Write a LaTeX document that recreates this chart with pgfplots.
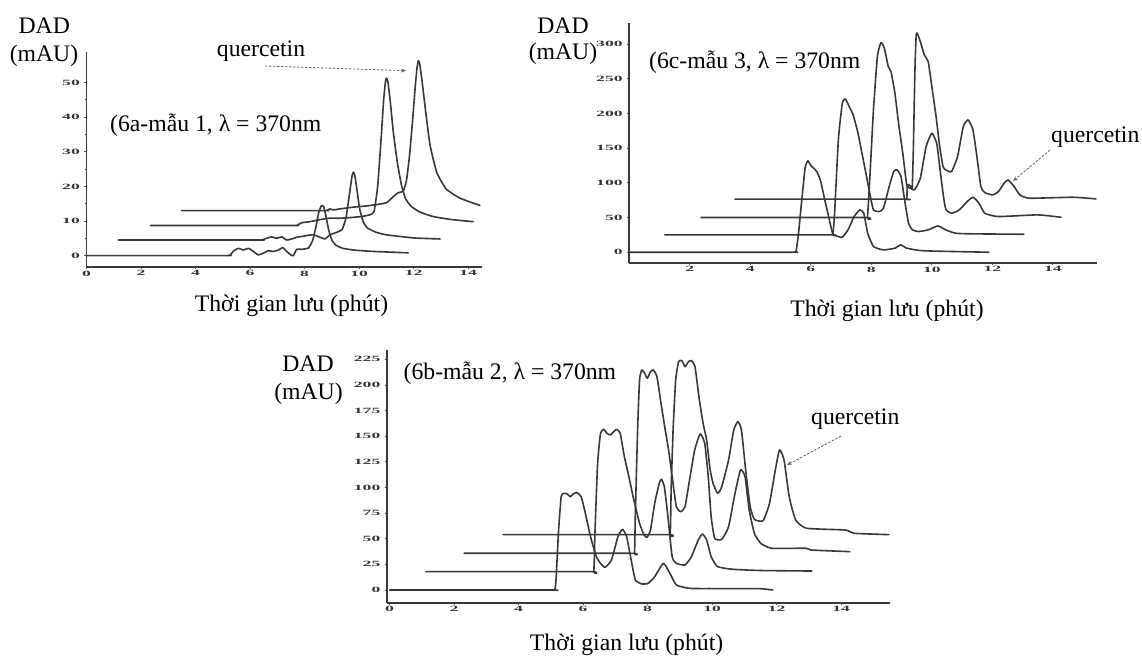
\documentclass[border=0pt]{standalone}
\usepackage{fontspec}
\setmainfont{Liberation Serif}
\newfontfamily\tickfont{Liberation Serif}[FakeStretch=2.2]
\usepackage{pgfplots}
\pgfplotsset{compat=1.18}
\usetikzlibrary{arrows.meta}

\pgfplotsset{
  chrom/.style={
    scale only axis,
    axis lines=left,
    axis line style={-, draw=black!78, line width=1.8pt},
    tick style={draw=black!65, line width=0.8pt},
    tick align=outside,
    major tick length=2.5pt,
    minor tick length=1.5pt,
    minor x tick num=3,
    minor y tick num=1,
    /pgf/number format/assume math mode=true,
    ticklabel style={font=\tickfont\bfseries\fontsize{8}{8}\selectfont, text=black!80, inner sep=0pt},
    yticklabel style={xshift=-4pt},
    xticklabel style={yshift=-1pt},
  },
  tr/.style={draw=black!78, line width=1.6pt, line join=round, line cap=round, mark=none, smooth, tension=0.3},
}
\newcommand{\lab}{\fontsize{23.7}{26}\selectfont}
\tikzset{qarrow/.style={dashed, dash pattern=on 2.5pt off 1.5pt, draw=black!60, line width=0.8pt, -{Stealth[length=5pt,width=4pt]}}}

\begin{document}
\begin{tikzpicture}
\useasboundingbox (0pt,0pt) rectangle (1142pt,658pt);

% ---------- 6a : mau 1 ----------
\begin{axis}[chrom, at={(86.5pt,391pt)}, anchor=south west,
  width=395.3pt, height=215.2pt,
  xmin=0, xmax=14.5, ymin=-3.3, ymax=58.9,
  xtick={0,2,...,14}, ytick={0,10,...,50}]
\addplot[tr] coordinates {(0,0) (5.1,0) (5.2,0.1) (5.26,0) (5.38,1.2) (5.57,2.1) (5.75,1.6) (5.94,2.1) (6.12,1.2) (6.3,0.2) (6.49,0.7) (6.67,1.4) (6.85,1.2) (7.04,1.6) (7.2,2.3) (7.34,1.2) (7.49,0.2) (7.59,0) (7.71,1.8) (7.89,1.8) (8.14,2.2) (8.3,4.5) (8.42,8.5) (8.52,12.5) (8.6,14.2) (8.65,14.5) (8.7,14.1) (8.78,11.5) (8.88,7.5) (9.0,4.5) (9.15,3.0) (9.4,2.1) (9.8,1.6) (10.5,1.2) (11.8,0.8)};
\addplot[tr] coordinates {(1.17,4.5) (6.3,4.5) (6.43,4.5) (6.61,5.0) (6.79,5.4) (6.97,5.0) (7.16,5.4) (7.34,4.5) (7.53,4.8) (7.71,5.3) (7.89,5.5) (8.08,5.8) (8.32,6.0) (8.57,5.3) (8.75,4.8) (8.93,6.0) (9.2,6.8) (9.38,7.6) (9.52,11) (9.65,18) (9.74,23) (9.79,24.1) (9.84,23.2) (9.92,19) (10.02,13.5) (10.15,9.8) (10.3,8.0) (10.6,6.8) (11.0,6.0) (12.0,5.1) (12.97,4.8)};
\addplot[tr] coordinates {(2.35,8.7) (7.55,8.7) (7.7,8.7) (7.9,9.5) (8.2,9.8) (8.5,10.3) (8.9,10.8) (9.3,10.8) (9.7,11.0) (10.1,11.3) (10.4,11.8) (10.55,12.8) (10.68,20) (10.8,33) (10.9,45) (10.97,50.5) (11.01,51.3) (11.06,50) (11.15,44) (11.25,36) (11.4,27) (11.55,20.5) (11.7,16.5) (11.9,14.3) (12.2,12.7) (12.7,11.3) (13.4,10.4) (14.19,9.8)};
\addplot[tr] coordinates {(3.49,13.0) (8.65,13.0) (8.8,13.0) (8.93,13.5) (9.05,13.2) (9.3,13.5) (9.79,14.0) (10.28,14.35) (10.77,14.9) (11.01,15.3) (11.25,17.0) (11.44,18.2) (11.62,18.6) (11.74,21.9) (11.85,29) (11.95,38) (12.05,48) (12.12,54) (12.17,56.3) (12.22,55.5) (12.3,51) (12.42,43) (12.6,32) (12.85,24) (13.2,19.2) (13.7,16.6) (14.43,14.5)};
\end{axis}

% ---------- 6c : mau 3 ----------
\begin{axis}[chrom, at={(629.3pt,395pt)}, anchor=south west,
  width=467.4pt, height=240.4pt,
  xmin=0, xmax=15.45, ymin=-15.5, ymax=330.8,
  xtick={2,4,...,14}, ytick={0,50,...,300}]
\addplot[tr] coordinates {(0,0) (5.35,0) (5.45,0) (5.52,3) (5.6,30) (5.68,65.8) (5.81,121) (5.9,131.6) (6.0,125) (6.2,116) (6.33,101.8) (6.46,75.4) (6.59,51.4) (6.72,27.4) (6.91,22.6) (7.04,21.6) (7.23,32.2) (7.43,51.4) (7.62,61) (7.75,56.2) (7.88,27.4) (8.07,8.2) (8.4,3.4) (8.78,5.8) (8.97,10.6) (9.17,5.8) (9.62,2.4) (10.2,1.5) (11.88,0)};
\addplot[tr] coordinates {(1.17,25) (6.6,25) (6.72,25) (6.78,51.4) (6.91,161.8) (7.04,214.6) (7.14,220.8) (7.27,209.8) (7.4,197.8) (7.56,171.4) (7.69,142.6) (7.82,113.8) (7.97,80.2) (8.07,61) (8.26,58.6) (8.4,63.4) (8.59,94.6) (8.74,116.2) (8.85,118.6) (8.98,109) (9.1,75.4) (9.23,41.8) (9.36,32.2) (9.56,29.8) (9.88,32.2) (10.2,37.9) (10.46,32.2) (10.78,27.4) (11.3,26.5) (13.04,25.9)};
\addplot[tr] coordinates {(2.37,50) (7.75,50) (7.87,50) (7.97,123) (8.07,205) (8.2,281.8) (8.32,302) (8.43,293.8) (8.56,267.4) (8.65,260.2) (8.78,229) (8.9,185.8) (9.04,142.6) (9.17,97) (9.29,92.2) (9.43,89.8) (9.62,106.6) (9.81,152.2) (10.0,171.4) (10.16,157) (10.26,123.4) (10.37,85) (10.46,62) (10.65,56.2) (10.91,61) (11.17,73) (11.36,79.2) (11.56,70.6) (11.75,56.2) (12.2,51.4) (13.49,53.8) (14.27,50.4)};
\addplot[tr] coordinates {(3.49,76.4) (9.05,76.4) (9.17,76.4) (9.19,97) (9.28,96) (9.35,93) (9.39,150) (9.44,260) (9.49,315.6) (9.62,303.4) (9.75,284.2) (9.88,274.6) (10.0,238.6) (10.14,195.4) (10.26,152.2) (10.37,123.4) (10.46,118.6) (10.65,116.2) (10.85,137.8) (11.04,181) (11.2,190.6) (11.36,176.2) (11.49,137.8) (11.62,94.6) (11.75,85.9) (12.01,82.6) (12.2,87.4) (12.39,99.4) (12.52,104.2) (12.72,94.6) (12.91,82.6) (13.23,77.8) (14.65,79.2) (15.43,76.8)};
\end{axis}

% ---------- 6b : mau 2 ----------
\begin{axis}[chrom, at={(387pt,55.3pt)}, anchor=south west,
  width=502.5pt, height=252.7pt,
  xmin=-0.08, xmax=15.5, ymin=-12.4, ymax=234.1,
  xtick={0,2,...,14}, ytick={0,25,...,225}]
\addplot[tr] coordinates {(0,0) (5.0,0) (5.12,0) (5.16,10) (5.24,58.5) (5.32,91) (5.4,94.3) (5.51,93.7) (5.6,91) (5.7,93.7) (5.8,95) (5.94,91) (6.07,74.8) (6.23,52) (6.41,32.5) (6.54,26) (6.68,22.1) (6.88,29.3) (7.08,52) (7.22,59.2) (7.35,52) (7.49,29.3) (7.62,9.8) (7.82,5.9) (8.02,6.5) (8.22,13) (8.49,26) (8.69,16.3) (8.89,4.9) (9.3,1.6) (10.0,1.4) (11.45,1.3) (11.88,0)};
\addplot[tr] coordinates {(1.13,17.9) (6.2,17.9) (6.33,17.9) (6.37,58.5) (6.45,123.6) (6.54,152.8) (6.64,156.7) (6.74,152.8) (6.85,151.2) (6.95,154.5) (7.04,156.7) (7.15,152.8) (7.28,130) (7.42,110.6) (7.55,91) (7.75,65) (7.89,53.7) (7.98,51.4) (8.09,58.5) (8.22,84.6) (8.36,104) (8.43,108) (8.52,100.8) (8.63,71.5) (8.76,32.5) (8.89,26) (9.16,24.4) (9.36,32.5) (9.57,48.8) (9.7,54.6) (9.83,48.8) (9.97,32.5) (10.17,22.8) (10.64,20.2) (11.5,19) (13.09,18.5)};
\addplot[tr] coordinates {(2.31,35.8) (7.45,35.8) (7.59,35.8) (7.62,74.8) (7.69,156) (7.75,204.9) (7.82,214.6) (7.91,211.4) (7.99,206.5) (8.09,213) (8.18,214.6) (8.29,208) (8.4,185.4) (8.53,159.3) (8.65,136.6) (8.76,110.6) (8.89,81.3) (9.03,76.4) (9.16,81.3) (9.3,107.3) (9.46,136.6) (9.63,152.2) (9.77,143.1) (9.88,110.6) (9.97,71.5) (10.08,50.4) (10.3,49.4) (10.51,61.8) (10.71,94.3) (10.88,117.1) (11.02,110.6) (11.15,78) (11.31,55.3) (11.51,45.5) (11.85,40.7) (12.92,40.7) (13.06,39) (14.27,37.4)};
\addplot[tr] coordinates {(3.52,54) (8.58,54) (8.7,54) (8.73,97.6) (8.79,156) (8.87,204.9) (8.96,222.8) (9.06,223.7) (9.16,217.9) (9.27,222.8) (9.36,223.7) (9.47,217.9) (9.59,188.6) (9.72,162.6) (9.83,146.3) (9.94,117.1) (10.03,104) (10.17,94.3) (10.3,100.8) (10.51,126.8) (10.67,156) (10.8,164.2) (10.91,156) (11.04,117.1) (11.18,81.3) (11.31,68.9) (11.58,67.6) (11.78,84.6) (11.96,117.1) (12.09,136.6) (12.23,126.8) (12.39,91) (12.59,68.3) (12.93,60.2) (14.13,58.5) (14.4,55.3) (15.48,54)};
\end{axis}

% ---------- texts ----------
\begin{scope}[every node/.style={inner sep=0pt, font=\lab}]
\node[anchor=base] at (44.3pt,624.7pt) {DAD};
\node[anchor=base] at (44pt,596.3pt) {(mAU)};
\node[anchor=base] at (261pt,601.3pt) {quercetin};
\node[anchor=base west] at (110pt,526.3pt) {(6a-mẫu 1, λ = 370nm};
\node[anchor=base] at (291.5pt,346.3pt) {Thời gian lưu (phút)};

\node[anchor=base] at (563pt,624.7pt) {DAD};
\node[anchor=base] at (563pt,598pt) {(mAU)};
\node[anchor=base west] at (649pt,589.7pt) {(6c-mẫu 3, λ = 370nm};
\node[anchor=base west] at (1051pt,515pt) {quercetin};
\node[anchor=base] at (887pt,341.3pt) {Thời gian lưu (phút)};

\node[anchor=base] at (308pt,286.3pt) {DAD};
\node[anchor=base] at (308.5pt,258pt) {(mAU)};
\node[anchor=base west] at (403.5pt,278pt) {(6b-mẫu 2, λ = 370nm};
\node[anchor=base west] at (811pt,233pt) {quercetin};
\node[anchor=base] at (626.6pt,8pt) {Thời gian lưu (phút)};
\end{scope}

\draw[qarrow] (265pt,592pt) -- (406pt,587.3pt);
\draw[qarrow] (1050pt,508pt) -- (1013pt,477pt);
\draw[qarrow] (841pt,222pt) -- (787pt,193pt);
\end{tikzpicture}
\end{document}
